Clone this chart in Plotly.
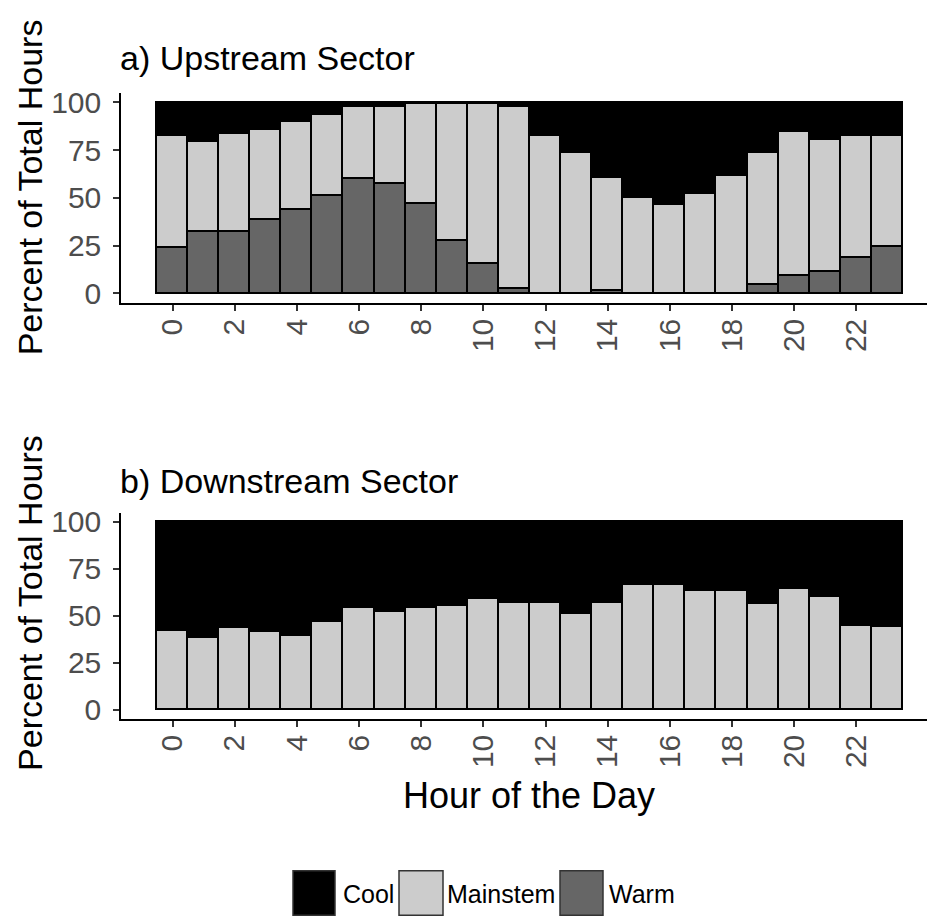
import plotly.graph_objects as go

hours = list(range(24))
tick_vals = [0, 2, 4, 6, 8, 10, 12, 14, 16, 18, 20, 22]
tick_text = [str(v) for v in tick_vals]

# a) Upstream Sector (percent of total hours)
up_warm = [24.0, 32.0, 32.0, 38.5, 43.7, 51.0, 60.0, 57.4, 46.8, 27.5, 15.3, 2.6,
           0.0, 0.0, 1.5, 0.0, 0.0, 0.0, 0.0, 4.3, 9.3, 11.5, 18.4, 24.4]
up_main = [58.5, 47.6, 51.5, 47.1, 46.0, 42.7, 37.8, 40.4, 52.2, 71.5, 83.7, 95.1,
           82.5, 73.4, 58.8, 50.2, 46.4, 52.4, 61.3, 69.1, 75.2, 69.1, 64.1, 58.1]
up_cool = [17.5, 20.4, 16.5, 14.4, 10.3, 6.3, 2.2, 2.2, 1.0, 1.0, 1.0, 2.3,
           17.5, 26.6, 39.7, 49.8, 53.6, 47.6, 38.7, 26.6, 15.5, 19.4, 17.5, 17.5]

# b) Downstream Sector
down_warm = [0.0] * 24
down_main = [42.3, 38.5, 43.5, 41.4, 39.5, 46.9, 54.2, 52.1, 54.2, 55.2, 59.4, 57.1,
             57.1, 51.2, 57.1, 66.4, 66.4, 63.5, 63.5, 56.3, 64.7, 60.3, 44.9, 44.2]
down_cool = [57.7, 61.5, 56.5, 58.6, 60.5, 53.1, 45.8, 47.9, 45.8, 44.8, 40.6, 42.9,
             42.9, 48.8, 42.9, 33.6, 33.6, 36.5, 36.5, 43.7, 35.3, 39.7, 55.1, 55.8]

categories = ["Cool", "Mainstem", "Warm"]
colors = {"Cool": "#000000", "Mainstem": "#CCCCCC", "Warm": "#666666"}

W, H = 935, 924
OFF = 8  # page body margin offset of the plot div
FONT = "Liberation Sans, Arial, sans-serif"

fig = go.Figure()

panels = [
    ("x", "y", up_warm, up_main, up_cool),
    ("x2", "y2", down_warm, down_main, down_cool),
]
for xa, ya, warm, main, cool in panels:
    for name, vals in (("Warm", warm), ("Mainstem", main), ("Cool", cool)):
        fig.add_trace(go.Bar(
            x=hours, y=vals, name=name, xaxis=xa, yaxis=ya,
            width=1.0, showlegend=False,
            marker=dict(color=colors[name], line=dict(color="#000000", width=1.6)),
        ))

def px_x(p):
    return (p - OFF) / W

def px_y(p):
    return 1 - (p - OFF) / H

xaxis_common = dict(
    range=[-1.658, 24.53], tickmode="array", tickvals=tick_vals, ticktext=tick_text,
    tickangle=-90, showline=True, linecolor="#000000", linewidth=1.5,
    ticks="outside", ticklen=6, tickcolor="#333333", tickwidth=1.5,
    tickfont=dict(family=FONT, size=30, color="#4D4D4D"),
    showgrid=False, zeroline=False, ticklabelstandoff=-4,
)
yaxis_common = dict(
    range=[-5, 105], tickmode="array", tickvals=[0, 25, 50, 75, 100],
    ticktext=["0", "25", "50", "75", "100"],
    showline=True, linecolor="#000000", linewidth=1.5,
    ticks="outside", ticklen=6, tickcolor="#333333", tickwidth=1.5,
    tickfont=dict(family=FONT, size=30, color="#4D4D4D"),
    showgrid=False, zeroline=False, ticklabelstandoff=6,
)

fig.update_layout(
    width=W, height=H,
    margin=dict(l=0, r=0, t=0, b=0),
    paper_bgcolor="white", plot_bgcolor="white",
    barmode="stack", bargap=0,
    xaxis=dict(domain=[px_x(121), px_x(935)], anchor="y", **xaxis_common),
    yaxis=dict(domain=[px_y(300.4), px_y(87)], anchor="x", **yaxis_common),
    xaxis2=dict(domain=[px_x(121), px_x(935)], anchor="y2", **xaxis_common),
    yaxis2=dict(domain=[px_y(722.8), px_y(513.2)], anchor="x2", **yaxis_common),
    font=dict(family=FONT),
)

annotations = [
    dict(text="a) Upstream Sector", x=px_x(118), y=px_y(52), xanchor="left", yanchor="middle",
         font=dict(size=34, color="#000000")),
    dict(text="b) Downstream Sector", x=px_x(118), y=px_y(481), xanchor="left", yanchor="middle",
         font=dict(size=34, color="#000000")),
    dict(text="Percent of Total Hours", x=px_x(30), y=px_y(183), textangle=-90,
         xanchor="center", yanchor="middle", font=dict(size=34, color="#000000")),
    dict(text="Percent of Total Hours", x=px_x(30), y=px_y(605), textangle=-90,
         xanchor="center", yanchor="middle", font=dict(size=34, color="#000000")),
    dict(text="Hour of the Day", x=px_x(529), y=px_y(800), xanchor="center", yanchor="middle",
         font=dict(size=36, color="#000000")),
]

# custom legend (large key boxes as in the reference)
legend_items = [("Cool", 293, 335, 341), ("Mainstem", 399, 443, 445), ("Warm", 560, 603, 607)]
shapes = []
for name, x0, x1, tx in legend_items:
    shapes.append(dict(type="rect", xref="paper", yref="paper",
                       x0=px_x(x0), x1=px_x(x1), y0=px_y(922), y1=px_y(877),
                       fillcolor=colors[name], line=dict(color="#333333", width=1.5)))
    annotations.append(dict(text=name, x=px_x(tx), y=px_y(901), xanchor="left", yanchor="middle",
                            font=dict(size=25, color="#000000")))

for a in annotations:
    a.update(xref="paper", yref="paper", showarrow=False)

fig.update_layout(annotations=annotations, shapes=shapes)

fig.write_html("out.html")
